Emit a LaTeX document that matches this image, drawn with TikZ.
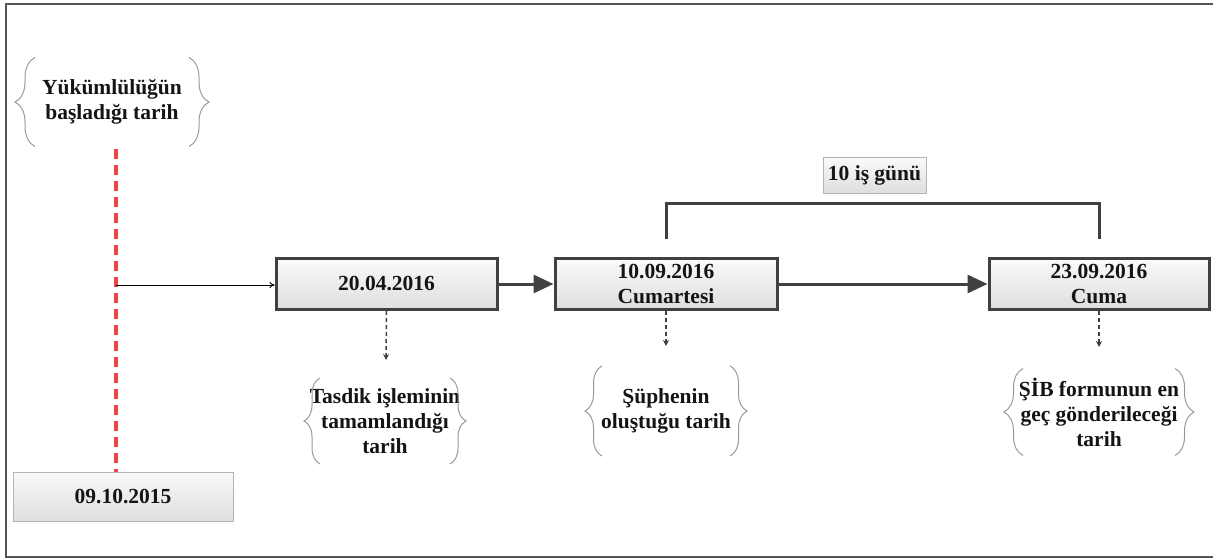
\documentclass[tikz,border=0pt]{standalone}
\usepackage{fontspec}
\setmainfont{Liberation Serif}
\usetikzlibrary{arrows.meta,decorations.pathreplacing,calc}

\definecolor{edge}{HTML}{404040}
\definecolor{thinedge}{HTML}{B4B4B4}
\definecolor{boxtop}{HTML}{FAFAFA}
\definecolor{boxbot}{HTML}{DEDEDE}
\definecolor{framec}{HTML}{555555}
\definecolor{redline}{HTML}{F24444}
\definecolor{bracec}{HTML}{9A9A9A}
\definecolor{inkc}{HTML}{141414}

% a pair of curly braces around a text node: node, half width, half height, amplitude
\newcommand\bracepair[4]{%
  \draw[bracepen, decoration={brace, amplitude=#4}]
    ($(#1)+(-#2,#3)$) -- ($(#1)+(-#2,-#3)$);
  \draw[bracepen, decoration={brace, amplitude=#4}]
    ($(#1)+(#2,-#3)$) -- ($(#1)+(#2,#3)$);}

\begin{document}
\begin{tikzpicture}[x=1pt, y=-1pt,
  font=\fontsize{21.5}{25}\selectfont\bfseries, text=inkc,
  datebox/.style={draw=edge, line width=3pt, top color=boxtop, bottom color=boxbot,
    minimum width=#1, minimum height=51pt, align=center, inner sep=0pt},
  plainbox/.style={draw=thinedge, line width=0.9pt, top color=boxtop, bottom color=boxbot,
    minimum width=#1, align=center, inner sep=0pt},
  bracetext/.style={align=center, inner sep=0pt},
  bracepen/.style={draw=bracec, line width=1pt, decorate},
  bigarrow/.style={draw=edge, line width=3pt, -{Triangle[length=20pt, width=18pt]}},
  thinarrow/.style={draw=black, line width=1pt, -{To[length=5pt, width=6pt]}},
  dasharrow/.style={draw=edge, line width=1.5pt, dash pattern=on 4pt off 3pt,
    -{Stealth[length=6pt, width=6pt]}},
  reddash/.style={draw=redline, line width=3.5pt, dash pattern=on 10pt off 6pt},
  bracket/.style={draw=edge, line width=3pt},
  framepen/.style={draw=framec, line width=2pt}]

\useasboundingbox (0,0) rectangle (1213,559);

% outer frame (open on the right)
\draw[framepen] (1213,4.5) -- (6,4.5) -- (6,557) -- (1213,557);

% start of the obligation
\node[bracetext] (yuk) at (112,102) {Yükümlülüğün\\başladığı tarih};
\bracepair{yuk}{77}{44.5}{20pt}

\node[plainbox=220pt, minimum height=49pt] (d0) at (123,496.5) {09.10.2015};

\coordinate (rtop) at (116,149);
\coordinate (rmid) at (116,285);
\draw[reddash] (rtop) -- (d0.north -| rtop);

% timeline boxes
\node[datebox=221pt] (b1) at (386.5,284) {20.04.2016};
\node[datebox=222pt] (b2) at (666,284) {10.09.2016\\Cumartesi};
\node[datebox=220pt] (b3) at (1099,284) {23.09.2016\\Cuma};

\draw[thinarrow] (rmid) -- (rmid -| b1.west);
\draw[bigarrow] (b1.east) -- (b2.west);
\draw[bigarrow] (b2.east) -- (b3.west);

% ten working days span
\node[plainbox=103pt, minimum height=36pt] (gun) at (874.5,175) {10 iş günü};
\draw[bracket] ($(b2.north)+(0,-18)$) -- ($(b2.north)+(0,-54)$)
  -| ($(b3.north)+(0,-18)$);

% notes under the boxes
\coordinate (n1) at (386,360);
\coordinate (n2) at (666,346);
\coordinate (n3) at (1099,347);
\draw[dasharrow] (b1.south) -- (n1);
\draw[dasharrow] (b2.south) -- (n2);
\draw[dasharrow] (b3.south) -- (n3);

\node[bracetext] (tas) at (385,421) {Tasdik işleminin\\tamamlandığı\\tarih};
\bracepair{tas}{65}{43}{16pt}

\node[bracetext] (sup) at (666,411) {Şüphenin\\oluştuğu tarih};
\bracepair{sup}{64}{45}{17pt}

\node[bracetext] (sib) at (1099,412) {ŞİB formunun en\\geç gönderileceği\\tarih};
\bracepair{sib}{76}{43.5}{19pt}

\end{tikzpicture}
\end{document}
